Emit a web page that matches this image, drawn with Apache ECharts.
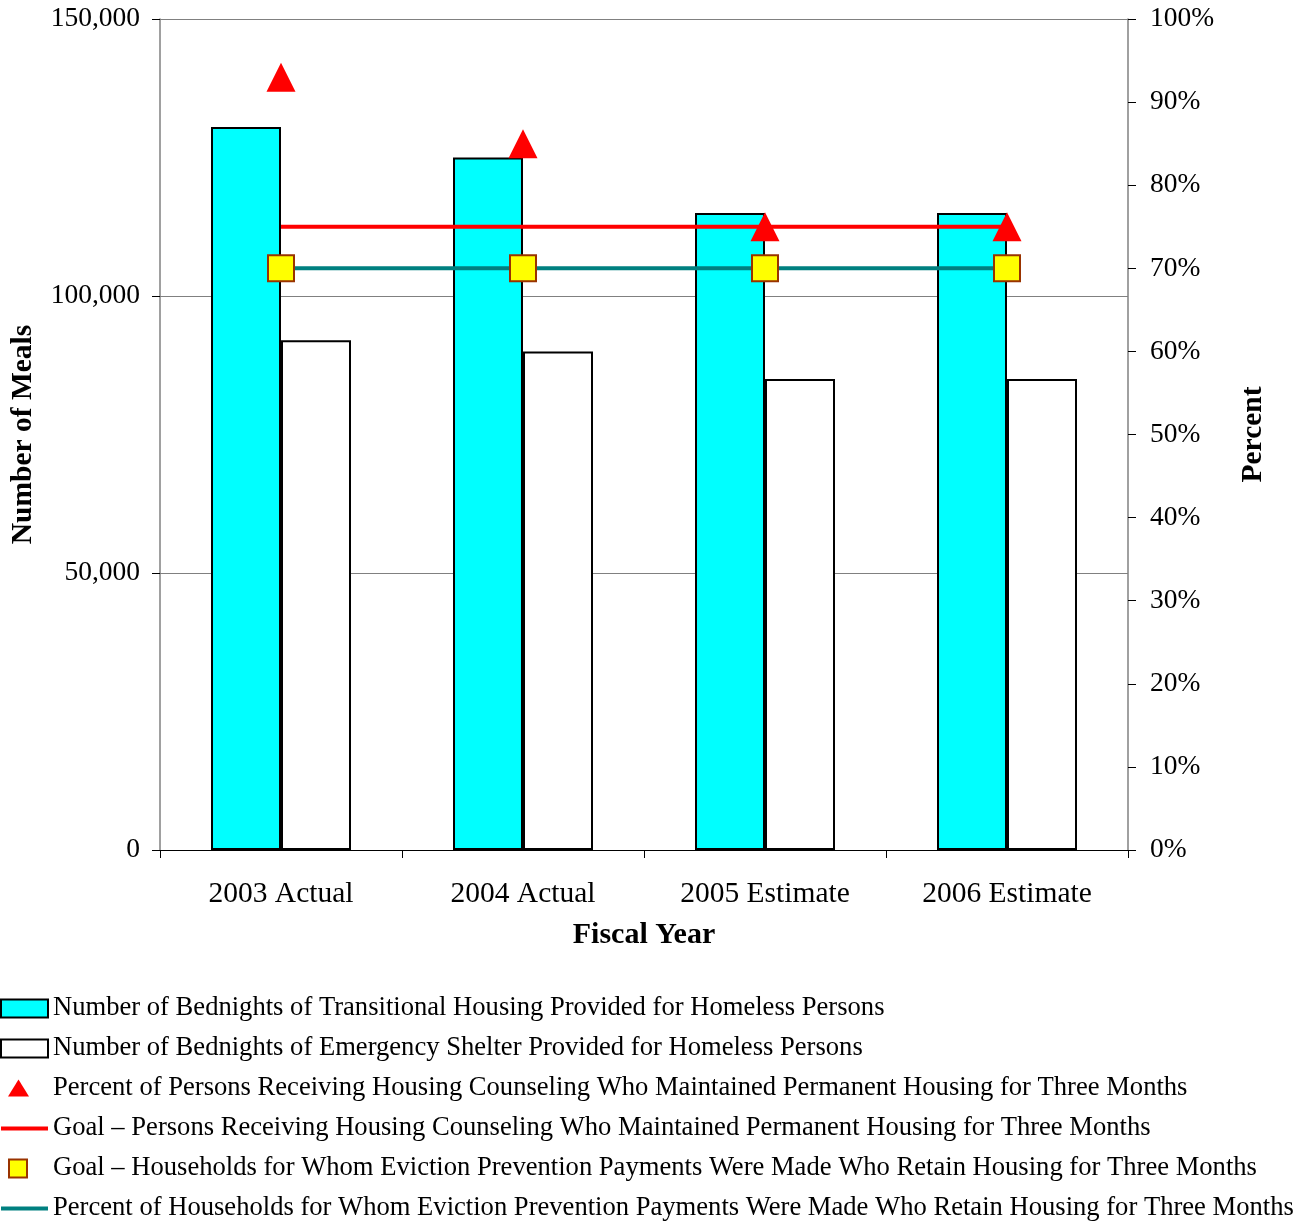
<!DOCTYPE html>
<html>
<head>
<meta charset="utf-8">
<script src="https://cdn.jsdelivr.net/npm/echarts@6/dist/echarts.min.js"></script>
<style>
  html, body { margin: 0; padding: 0; background: #fff; }
  #chart { width: 1315px; height: 1222px; }
</style>
</head>
<body>
<div id="chart"></div>
<script>
const categories = ['2003 Actual', '2004 Actual', '2005 Estimate', '2006 Estimate'];
const transitionalBednights = [130500, 125000, 115000, 115000];
const emergencyBednights = [92000, 90000, 85000, 85000];
const counselingPercent = [93, 85, 75, 75];
const counselingGoal = [75, 75, 75, 75];
const evictionGoal = [70, 70, 70, 70];
const evictionPercent = [70, 70, 70, 70];

const names = [
  'Number of Bednights of Transitional Housing Provided for Homeless Persons',
  'Number of Bednights of Emergency Shelter Provided for Homeless Persons',
  'Percent of Persons Receiving Housing Counseling Who Maintained Permanent Housing for Three Months',
  'Goal \u2013 Persons Receiving Housing Counseling Who Maintained Permanent Housing for Three Months',
  'Goal \u2013 Households for Whom Eviction Prevention Payments Were Made Who Retain Housing for Three Months',
  'Percent of Households for Whom Eviction Prevention Payments Were Made Who Retain Housing for Three Months'
];

const font = 'Liberation Serif';
const chart = echarts.init(document.getElementById('chart'));

// legend icons: thin bar for lines, small marks sitting left in the 47px slot
const lineIcon = 'path://M0 0H100V8H0Z';
const triIcon = 'path://M0 0M47 18M7 17L17.5 0L28 17Z';
const sqIcon = 'path://M0 0M47 18M8 0H26V18H8Z';

const option = {
  animation: false,
  textStyle: { fontFamily: font, color: '#000' },
  grid: { left: 160, right: 187, top: 19, bottom: 372 },
  legend: {
    orient: 'vertical',
    left: 0,
    top: 995,
    height: 227,
    padding: 0,
    itemWidth: 47,
    itemHeight: 18,
    itemGap: 13,
    data: [
      { name: names[0], icon: 'rect' },
      { name: names[1], icon: 'rect' },
      { name: names[2], icon: triIcon },
      { name: names[3], icon: lineIcon },
      { name: names[4], icon: sqIcon },
      { name: names[5], icon: lineIcon }
    ],
    textStyle: { fontFamily: font, fontSize: 26.6, color: '#000' }
  },
  xAxis: {
    type: 'category',
    data: categories,
    name: 'Fiscal Year',
    nameLocation: 'middle',
    nameGap: 70,
    nameTextStyle: { fontFamily: font, fontSize: 30, fontWeight: 'bold', color: '#000' },
    axisLine: { lineStyle: { color: '#000', width: 1 } },
    axisTick: { show: true, length: 8, lineStyle: { color: '#000' } },
    axisLabel: { fontFamily: font, fontSize: 29.5, color: '#000', margin: 29 }
  },
  yAxis: [
    {
      type: 'value',
      min: 0,
      max: 150000,
      interval: 50000,
      name: 'Number of Meals',
      nameLocation: 'middle',
      nameRotate: 90,
      nameGap: 122,
      nameTextStyle: { fontFamily: font, fontSize: 29.5, fontWeight: 'bold', color: '#000' },
      axisLine: { show: true, lineStyle: { color: '#808080', width: 1.5 } },
      axisTick: { show: true, length: 8, lineStyle: { color: '#000' } },
      axisLabel: {
        fontFamily: font, fontSize: 27.5, color: '#000', margin: 20,
        formatter: v => echarts.format.addCommas(v)
      },
      splitLine: { show: true, lineStyle: { color: '#808080', width: 1 } }
    },
    {
      type: 'value',
      min: 0,
      max: 100,
      interval: 10,
      position: 'right',
      name: 'Percent',
      nameLocation: 'middle',
      nameRotate: 90,
      nameGap: 110,
      nameTextStyle: { fontFamily: font, fontSize: 29.5, fontWeight: 'bold', color: '#000' },
      axisLine: { show: true, lineStyle: { color: '#808080', width: 1.5 } },
      axisTick: { show: true, length: 8, lineStyle: { color: '#000' } },
      axisLabel: { fontFamily: font, fontSize: 27.5, color: '#000', margin: 22, formatter: '{value}%' },
      splitLine: { show: false }
    }
  ],
  series: [
    {
      name: names[0],
      type: 'bar',
      data: transitionalBednights,
      barWidth: 70,
      barGap: '0%',
      itemStyle: { color: '#00FFFF', borderColor: '#000', borderWidth: 2 }
    },
    {
      name: names[1],
      type: 'bar',
      data: emergencyBednights,
      barWidth: 70,
      itemStyle: { color: '#FFFFFF', borderColor: '#000', borderWidth: 2 }
    },
    {
      name: names[3],
      type: 'line',
      yAxisIndex: 1,
      data: counselingGoal,
      symbol: 'none',
      lineStyle: { color: '#FF0000', width: 4 },
      itemStyle: { color: '#FF0000' },
      z: 3
    },
    {
      name: names[5],
      type: 'line',
      yAxisIndex: 1,
      data: evictionPercent,
      symbol: 'none',
      lineStyle: { color: '#008080', width: 4 },
      itemStyle: { color: '#008080' },
      z: 3
    },
    {
      name: names[4],
      type: 'scatter',
      yAxisIndex: 1,
      data: evictionGoal,
      symbol: 'rect',
      symbolSize: 26,
      itemStyle: { color: '#FFFF00', borderColor: '#993300', borderWidth: 2, opacity: 1 },
      z: 4
    },
    {
      name: names[2],
      type: 'scatter',
      yAxisIndex: 1,
      data: counselingPercent,
      symbol: 'triangle',
      symbolSize: 29,
      itemStyle: { color: '#FF0000', opacity: 1 },
      z: 5
    }
  ]
};

chart.setOption(option);
</script>
</body>
</html>
